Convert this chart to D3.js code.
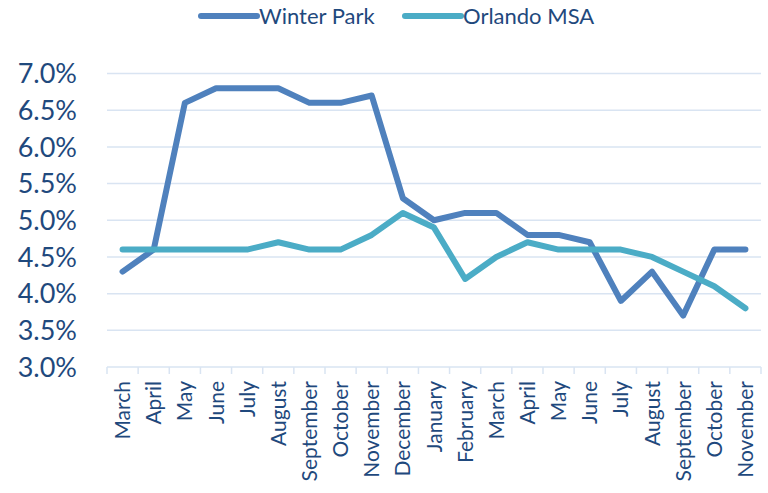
<!DOCTYPE html>
<html>
<head>
<meta charset="utf-8">
<script src="https://cdn.jsdelivr.net/npm/d3@7"></script>
<style>
  body { margin: 0; background: #fff; }
  svg text { font-family: Lato, "Open Sans", sans-serif; fill: #1F497D; }
</style>
</head>
<body>
<div id="chart"></div>
<script>
var months = ["March", "April", "May", "June", "July", "August", "September", "October", "November",
              "December", "January", "February", "March", "April", "May", "June", "July", "August",
              "September", "October", "November"];
var winterPark = [4.3, 4.6, 6.6, 6.8, 6.8, 6.8, 6.6, 6.6, 6.7, 5.3, 5.0, 5.1, 5.1, 4.8, 4.8, 4.7, 3.9, 4.3, 3.7, 4.6, 4.6];
var orlandoMSA = [4.6, 4.6, 4.6, 4.6, 4.6, 4.7, 4.6, 4.6, 4.8, 5.1, 4.9, 4.2, 4.5, 4.7, 4.6, 4.6, 4.6, 4.5, 4.3, 4.1, 3.8];
var yTicks = [3.0, 3.5, 4.0, 4.5, 5.0, 5.5, 6.0, 6.5, 7.0];
var seriesNames = ["Winter Park", "Orlando MSA"];
var colors = ["#4F81BD", "#4BACC6"];

function init(){
    var w = 768, h = 493;
    var left = 107, right = 761, top = 73.5, bottom = 367;

    var svg = d3.select("#chart").append("svg")
        .attr("width", w)
        .attr("height", h);

    // index-based band scale so repeated month names stay separate
    var xScale = d3.scaleBand()
        .domain(d3.range(months.length))
        .range([left, right]);

    var yScale = d3.scaleLinear()
        .domain([3.0, 7.0])
        .range([bottom, top]);

    // gridlines
    svg.append("g").selectAll("line")
        .data(yTicks.slice(1))
        .enter().append("line")
        .attr("x1", left).attr("x2", right)
        .attr("y1", function(d){ return yScale(d); })
        .attr("y2", function(d){ return yScale(d); })
        .attr("stroke", "#D9E4F2")
        .attr("stroke-width", 1.5);

    // y labels
    svg.append("g").selectAll("text")
        .data(yTicks)
        .enter().append("text")
        .attr("x", 77)
        .attr("y", function(d){ return yScale(d); })
        .attr("dy", "0.36em")
        .attr("text-anchor", "end")
        .attr("font-size", "27px")
        .text(function(d){ return d.toFixed(1) + "%"; });

    // x axis line + ticks
    var axisG = svg.append("g");
    axisG.append("line")
        .attr("x1", left).attr("x2", right)
        .attr("y1", bottom).attr("y2", bottom)
        .attr("stroke", "#D9E4F2")
        .attr("stroke-width", 1.5);
    var tickPos = d3.range(months.length + 1).map(function(i){ return left + i * xScale.step(); });
    axisG.selectAll(".tick")
        .data(tickPos)
        .enter().append("line")
        .attr("x1", function(d){ return d; })
        .attr("x2", function(d){ return d; })
        .attr("y1", bottom).attr("y2", bottom + 7)
        .attr("stroke", "#D9E4F2")
        .attr("stroke-width", 1.5);

    axisG.selectAll(".xlab")
        .data(months)
        .enter().append("text")
        .attr("class", "xlab")
        .attr("transform", function(d, i){
            var cx = xScale(i) + xScale.bandwidth() / 2;
            return "translate(" + cx + "," + (bottom + 14) + ") rotate(-90)";
        })
        .attr("dy", "0.36em")
        .attr("text-anchor", "end")
        .attr("font-size", "21px")
        .text(function(d){ return d; });

    // lines
    var line = d3.line()
        .x(function(d, i){ return xScale(i) + xScale.bandwidth() / 2; })
        .y(function(d){ return yScale(d); });

    [winterPark, orlandoMSA].forEach(function(series, k){
        svg.append("path")
            .datum(series)
            .attr("d", line)
            .attr("fill", "none")
            .attr("stroke", colors[k])
            .attr("stroke-width", 6)
            .attr("stroke-linejoin", "round")
            .attr("stroke-linecap", "round");
    });

    // legend
    var legendX = [201, 405];
    seriesNames.forEach(function(name, k){
        var g = svg.append("g").attr("transform", "translate(" + legendX[k] + ",16)");
        g.append("line")
            .attr("x1", 0).attr("x2", 56)
            .attr("stroke", colors[k])
            .attr("stroke-width", 6)
            .attr("stroke-linecap", "round");
        g.append("text")
            .attr("x", 58)
            .attr("dy", "0.36em")
            .attr("font-size", "22px")
            .text(name);
    });
}
window.onload = init;
</script>
</body>
</html>
